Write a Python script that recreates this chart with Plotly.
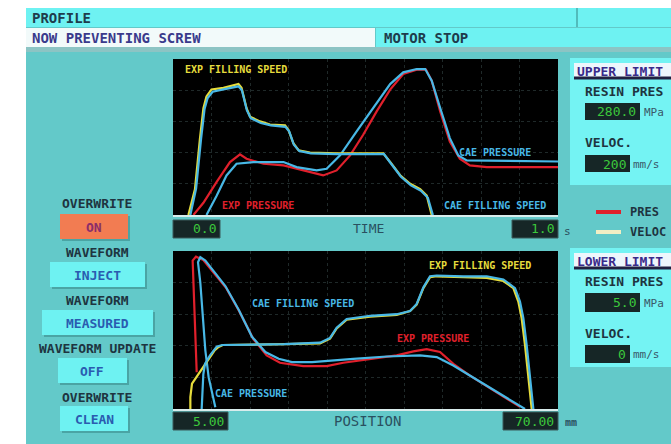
import plotly.graph_objects as go

W, H = 671, 444

# ---------------- axis ranges / tick labels ----------------
time_range = [0.0, 1.0]          # s
pos_range = [5.0, 70.0]          # mm
pres_range = [0.0, 280.0]        # MPa
speed_range = [0.0, 200.0]       # mm/s
time_labels = ["0.0", "1.0"]
pos_labels = ["5.00", "70.00"]
upper_limits = ["280.0", "200"]
lower_limits = ["5.0", "0"]
series_names = ["EXP FILLING SPEED", "CAE FILLING SPEED", "EXP PRESSURE", "CAE PRESSURE"]

# ---------------- upper chart: versus time ----------------
t_exp_speed = [0.040, 0.057, 0.070, 0.079, 0.087, 0.100, 0.131, 0.170, 0.178, 0.191, 0.200, 0.226, 0.252,
               0.291, 0.300, 0.3125, 0.326, 0.356, 0.425, 0.546, 0.564, 0.590, 0.616, 0.642, 0.659, 0.672]
v_exp_speed = [0, 33, 98, 137, 152, 161, 163, 168, 163, 137, 126, 120, 116,
               115, 109, 92, 83, 80, 79, 79, 68, 51, 40, 33, 25, 0]
t_cae_speed = [0.045, 0.060, 0.073, 0.082, 0.090, 0.103, 0.131, 0.170, 0.179, 0.192, 0.202, 0.228, 0.254,
               0.292, 0.302, 0.314, 0.328, 0.358, 0.425, 0.548, 0.566, 0.592, 0.618, 0.644, 0.662, 0.675]
v_cae_speed = [0, 34, 98, 136, 150, 158, 161, 165, 160, 134, 124, 118, 115,
               113, 107, 90, 82, 79, 78, 78, 66, 49, 38, 31, 22, 0]
t_exp_pres = [0.053, 0.079, 0.113, 0.148, 0.174, 0.191, 0.235, 0.287, 0.339, 0.390, 0.425, 0.460, 0.494,
              0.529, 0.564, 0.598, 0.633, 0.657, 0.672, 0.694, 0.719, 0.745, 0.771, 0.815, 1.0]
p_exp_pres = [0, 22, 59, 95, 109, 101, 92, 89, 80, 71, 80, 107, 144,
              186, 225, 253, 261, 261, 241, 186, 132, 101, 89, 86, 86]
t_cae_pres = [0.087, 0.113, 0.139, 0.165, 0.209, 0.287, 0.321, 0.373, 0.399, 0.434, 0.477, 0.520, 0.564,
              0.598, 0.633, 0.655, 0.672, 0.694, 0.719, 0.741, 0.763, 1.0]
p_cae_pres = [0, 34, 71, 92, 95, 95, 86, 80, 83, 107, 150, 192, 235,
              256, 262, 262, 241, 192, 138, 107, 98, 96]

# ---------------- lower chart: versus screw position ----------------
x_exp_speed = [7.93, 7.93, 8.21, 9.33, 10.46, 12.0, 12.6, 13.4, 23.78, 29.82, 31.51, 32.63, 34.32, 38.26,
               42.76, 45.02, 46.14, 47.27, 48.40, 49.52, 54.02, 57.96, 60.77, 62.46, 63.30, 63.86, 64.43,
               64.99, 65.56]
s_exp_speed = [0, 15, 32, 44, 57, 74, 78, 81, 82, 83, 89, 102, 113, 117,
               119, 124, 132, 153, 167, 168, 167, 166, 162, 153, 136, 115, 81,
               38, 0]
x_cae_speed = [9.84, 9.95, 10.12, 10.40, 11.25, 12.37, 13.3, 23.78, 29.82, 31.51, 32.63, 34.32, 38.26,
               42.76, 45.02, 46.14, 47.27, 48.40, 49.52, 54.02, 57.96, 60.77, 62.74, 63.58, 64.15, 64.71,
               65.27, 65.84]
s_cae_speed = [0, 25, 44, 57, 68, 79, 81, 82, 84, 90, 103, 114, 118,
               120, 124, 133, 154, 168, 169, 168, 168, 164, 153, 136, 115, 81,
               38, 0]
x_exp_pres = [9.0, 8.71, 8.43, 8.32, 8.88, 10.12, 11.53, 13.95, 16.20, 18.56, 20.81, 23.06, 27.0,
              30.94, 33.76, 38.26, 42.76, 45.58, 47.83, 50.08, 52.33, 55.14, 57.96, 60.77, 63.58]
q_exp_pres = [65, 143, 221, 263, 270, 264, 246, 215, 173, 124, 95, 82, 76,
              76, 82, 89, 95, 102, 106, 101, 80, 59, 40, 22, 4]
x_cae_pres = [12.15, 11.02, 10.46, 9.61, 9.22, 9.61, 10.46, 11.58, 13.84, 16.09, 18.34, 20.59, 22.84,
              25.09, 28.47, 35.45, 41.07, 46.70, 49.52, 52.33, 55.14, 57.96, 60.77, 63.58, 64.43]
q_cae_pres = [3, 56, 104, 224, 260, 269, 263, 248, 218, 176, 128, 101, 89,
              83, 83, 89, 93, 95, 92, 77, 59, 41, 23, 5, 0]

# ---------------- styling ----------------
RED = "#e0202c"
YEL = "#e6dc3c"
CYA = "#48b8e6"
TEAL = "#63c9c9"
CYAN_BAR = "#6ef2f2"
PANEL = "#74f3f3"
DARK = "#1e3440"
BLUE_TXT = "#2a5cb0"
GREEN = "#3cc83c"
BOX = "#162626"
MONO = "DejaVu Sans Mono"


def X(px):
    return px / W


def Y(py):
    return 1 - py / H


shapes = []


def rect(x0, y0, x1, y1, fill, lc=None, lw=0):
    shapes.append(dict(type="rect", xref="paper", yref="paper", layer="below",
                       x0=X(x0), x1=X(x1), y0=Y(y1), y1=Y(y0), fillcolor=fill,
                       line=dict(width=lw, color=lc or fill)))


def hline(x0, x1, y, color, w):
    shapes.append(dict(type="line", xref="paper", yref="paper", layer="below",
                       x0=X(x0), x1=X(x1), y0=Y(y), y1=Y(y), line=dict(color=color, width=w)))


def vline(x, y0, y1, color, w):
    shapes.append(dict(type="line", xref="paper", yref="paper", layer="below",
                       x0=X(x), x1=X(x), y0=Y(y0), y1=Y(y1), line=dict(color=color, width=w)))


annotations = []


def text(s, x, y, color=DARK, size=14, anchor="left", bold=True):
    annotations.append(dict(text=s, xref="paper", yref="paper", x=X(x), y=Y(y), showarrow=False,
                            xanchor=anchor, yanchor="middle",
                            font=dict(family=MONO, size=size, color=color,
                                      weight="bold" if bold else "normal")))


# screen background
rect(26, 8, 671, 444, TEAL)
rect(26, 8, 671, 27, CYAN_BAR)
vline(577, 8, 27, "#48aaaa", 1.5)
rect(26, 28, 375, 47, "#f2fafa")
rect(376, 28, 671, 47, CYAN_BAR)
rect(26, 47, 671, 52, "#8cc4c4")

# plot areas
rect(173, 59, 558, 215, "#000000")
rect(173, 251, 558, 409, "#000000")
hline(173, 558, 216, "#d8ecec", 2)
hline(173, 558, 410, "#d8ecec", 2)

# axis value boxes
for (x0, x1, y0, y1) in [(173, 220, 220, 238), (512, 558, 220, 238),
                         (173, 228, 412, 430), (503, 558, 412, 430)]:
    rect(x0, y0, x1, y1, BOX, "#3a5a5a", 1)

# right limit panels
for (y0, y1) in [(58, 185), (248, 367)]:
    rect(570, y0, 671, y1, PANEL)
    rect(574, y0 + 5, 671, y0 + 19, "#eef6fc")
    hline(574, 671, y0 + 20, "#202040", 3)
for (x0, x1, y0, y1) in [(585, 640, 103, 120), (585, 630, 155, 172),
                         (585, 640, 293, 312), (585, 630, 345, 363)]:
    rect(x0, y0, x1, y1, BOX)

# legend samples
hline(596, 621, 212, RED, 4)
hline(596, 621, 232, "#f2eec4", 4)

# buttons
buttons = [("ON", 60, 128, 214, 239, "#f27c52", "#8a2e6a"),
           ("INJECT", 50, 145, 262, 287, CYAN_BAR, BLUE_TXT),
           ("MEASURED", 42, 153, 310, 335, CYAN_BAR, BLUE_TXT),
           ("OFF", 58, 127, 358, 383, CYAN_BAR, BLUE_TXT),
           ("CLEAN", 60, 128, 406, 431, CYAN_BAR, BLUE_TXT)]
for (lbl, x0, x1, y0, y1, fill, tc) in buttons:
    rect(x0 + 2, y0 + 2, x1 + 2, y1 + 2, "#4aa4a4")
    rect(x0, y0, x1, y1, fill)
    text(lbl, (x0 + x1) / 2, (y0 + y1) / 2 + 1, tc, 13, "center")

# left labels
for (lbl, y) in [("OVERWRITE", 203), ("WAVEFORM", 252), ("WAVEFORM", 300),
                 ("WAVEFORM UPDATE", 348), ("OVERWRITE", 397)]:
    text(lbl, 97, y, DARK, 13, "center")

# header texts
text("PROFILE", 30, 18, "#1e3c4c", 14)
text("NOW PREVENTING SCREW", 30, 38, "#3a3a8c", 14)
text("MOTOR STOP", 382, 38, "#1e3c4c", 14)

# axis texts
text(time_labels[0], 218, 229, GREEN, 13, "right", False)
text(time_labels[1], 556, 229, GREEN, 13, "right", False)
text("TIME", 368, 229, "#2a5060", 13, "center", False)
text("s", 562, 231, "#2a5060", 11, "left", False)
text(pos_labels[0], 226, 421, GREEN, 13, "right", False)
text(pos_labels[1], 556, 421, GREEN, 13, "right", False)
text("POSITION", 367, 421, "#2a5060", 14, "center", False)
text("mm", 563, 422, "#2a5060", 10, "left", True)

# right panel texts
for (y0, title, lim) in [(58, "UPPER LIMIT", upper_limits), (248, "LOWER LIMIT", lower_limits)]:
    text(title, 575, y0 + 13, "#3a2a8a", 13)
    text("RESIN PRES", 583, y0 + 33, DARK, 13)
    text(lim[0], 638, y0 + 54, GREEN, 13, "right", False)
    text("MPa", 642, y0 + 55, "#3a5868", 11, "left", False)
    text("VELOC.", 583, y0 + 85, DARK, 13)
    text(lim[1], 628, y0 + 106, GREEN, 13, "right", False)
    text("mm/s", 631, y0 + 106, "#3a5868", 11, "left", False)
text("PRES", 628, 212, DARK, 12)
text("VELOC", 628, 232, DARK, 12)

# curve labels
text(series_names[0], 183, 70, YEL, 10)
text(series_names[3], 457, 152, CYA, 10)
text(series_names[2], 220, 205, RED, 10)
text(series_names[1], 442, 205, CYA, 10)
text(series_names[0], 427, 265, YEL, 10)
text(series_names[1], 250, 303, CYA, 10)
text(series_names[2], 395, 338, RED, 10)
text(series_names[3], 213, 393, CYA, 10)

fig = go.Figure()
lw = 2.2
# upper chart
fig.add_trace(go.Scatter(x=t_exp_pres, y=p_exp_pres, mode="lines", line=dict(color=RED, width=lw),
                         name=series_names[2], xaxis="x", yaxis="y"))
fig.add_trace(go.Scatter(x=t_exp_speed, y=v_exp_speed, mode="lines", line=dict(color=YEL, width=lw),
                         name=series_names[0], xaxis="x", yaxis="y2"))
fig.add_trace(go.Scatter(x=t_cae_speed, y=v_cae_speed, mode="lines", line=dict(color=CYA, width=lw),
                         name=series_names[1], xaxis="x", yaxis="y2"))
fig.add_trace(go.Scatter(x=t_cae_pres, y=p_cae_pres, mode="lines", line=dict(color=CYA, width=lw),
                         name=series_names[3], xaxis="x", yaxis="y"))
# lower chart
fig.add_trace(go.Scatter(x=x_exp_pres, y=q_exp_pres, mode="lines", line=dict(color=RED, width=lw),
                         name=series_names[2], xaxis="x2", yaxis="y3"))
fig.add_trace(go.Scatter(x=x_exp_speed, y=s_exp_speed, mode="lines", line=dict(color=YEL, width=lw),
                         name=series_names[0], xaxis="x2", yaxis="y4"))
fig.add_trace(go.Scatter(x=x_cae_speed, y=s_cae_speed, mode="lines", line=dict(color=CYA, width=lw),
                         name=series_names[1], xaxis="x2", yaxis="y4"))
fig.add_trace(go.Scatter(x=x_cae_pres, y=q_cae_pres, mode="lines", line=dict(color=CYA, width=lw),
                         name=series_names[3], xaxis="x2", yaxis="y3"))

grid = dict(showgrid=True, gridcolor="#1f2929", griddash="dot", gridwidth=1, zeroline=False,
            showline=False, showticklabels=False, ticks="", fixedrange=True)
nogrid = dict(showgrid=False, zeroline=False, showline=False, showticklabels=False, ticks="",
              fixedrange=True)
xdom = [X(173), X(558)]
fig.update_layout(
    width=W, height=H, margin=dict(l=0, r=0, t=0, b=0),
    paper_bgcolor="white", plot_bgcolor="black", showlegend=False,
    xaxis=dict(domain=xdom, range=time_range, anchor="y", dtick=0.1, tick0=0, **grid),
    yaxis=dict(domain=[Y(215), Y(59)], range=pres_range, anchor="x", dtick=56, **grid),
    yaxis2=dict(range=speed_range, overlaying="y", anchor="x", **nogrid),
    xaxis2=dict(domain=xdom, range=pos_range, anchor="y3", dtick=6.5, tick0=5, **grid),
    yaxis3=dict(domain=[Y(409), Y(251)], range=pres_range, anchor="x2", dtick=56, **grid),
    yaxis4=dict(range=speed_range, overlaying="y3", anchor="x2", **nogrid),
    shapes=shapes, annotations=annotations,
)

fig.write_html("out.html", config={"displayModeBar": False, "staticPlot": True},
               post_script="document.body.style.margin='0';document.body.style.overflow='hidden';")
